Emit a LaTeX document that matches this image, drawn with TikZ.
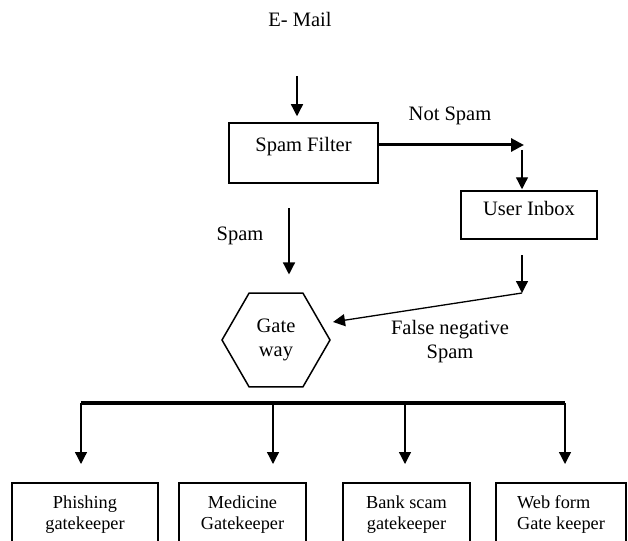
\documentclass[tikz,border=0pt]{standalone}
\usepackage{fontspec}
\setmainfont{Liberation Serif}
\usetikzlibrary{arrows.meta,shapes.geometric}
\begin{document}
\begin{tikzpicture}[x=1pt,y=-1pt,
  every node/.style={font=\fontsize{20.5}{24}\selectfont},
  lbl/.style={inner sep=0pt, anchor=base},
  boxn/.style={draw, line width=1.5pt, inner sep=0pt},
  arr/.style={line width=1.3pt, -{Triangle[width=12pt,length=12pt]}},
  thickarr/.style={line width=3pt, -{Triangle[width=13pt,length=13pt]}},
  gk/.style={draw, line width=1.5pt, anchor=north, minimum height=63pt, inner sep=0pt, align=center, font=\fontsize{18.3}{21}\selectfont}
]
\useasboundingbox (0,0) rectangle (628,540);
\clip (0,0) rectangle (628,540);

% E-Mail input
\node[lbl] (email) at (300,27) {E- Mail};
\coordinate (ein) at (297,76);

% Spam filter
\node[boxn, minimum width=149pt, minimum height=60pt] (sf) at (303.5,153) {};
\node[lbl] (sft) at (303.5,152) {Spam Filter};
\draw[arr, shorten >=6pt] (ein) -- (ein |- sf.north);

% Not spam
\coordinate (ns) at (524,145);
\draw[thickarr] (sf.east |- ns) -- (ns);
\node[lbl] (nst) at (450,121) {Not Spam};

% User inbox
\coordinate (ns2) at (522,150);
\node[boxn, minimum width=136pt, minimum height=48pt] (ui) at (529,215) {};
\node[lbl] (uit) at (529,215) {User Inbox};
\draw[arr, shorten >=1pt] (ns2) -- (ns2 |- ui.north);

% Spam to gateway
\node[lbl] (spt) at (240,240) {Spam};
\coordinate (sp) at (289,208);
\node[draw, regular polygon, regular polygon sides=6, minimum size=108pt, inner sep=0pt,
      line width=1.5pt, align=center] (gw) at (276,340) {Gate\\way};
\draw[arr, shorten >=18pt] (sp) -- (sp |- gw.north);

% False negative
\coordinate (uo) at (522,255);
\coordinate (fn) at (522,293);
\draw[arr] (uo) -- (fn);
\coordinate (fne) at (333,322);
\draw[arr] (fn) -- (fne);
\node[align=center, inner sep=0pt] (fnt) at (450,342) {False negative\\Spam};

% Bus
\coordinate (bl) at (81,403);
\coordinate (br) at (565,403);
\coordinate (d2) at (273,403);
\coordinate (d3) at (405,403);
\draw[line width=3.5pt] (bl) -- (br);

% Gatekeepers
\node[gk, minimum width=146pt] (b1) at (85,482) {Phishing\\gatekeeper};
\node[gk, minimum width=127pt] (b2) at (242.5,482) {Medicine\\Gatekeeper};
\node[gk, minimum width=127pt] (b3) at (406.5,482) {Bank scam\\gatekeeper};
\node[gk, minimum width=130pt, align=left] (b4) at (561,482) {Web form\\Gate keeper};

\draw[arr, shorten >=18pt] (bl) -- (bl |- b1.north);
\draw[arr, shorten >=18pt] (d2) -- (d2 |- b2.north);
\draw[arr, shorten >=18pt] (d3) -- (d3 |- b3.north);
\draw[arr, shorten >=18pt] (br) -- (br |- b4.north);
\end{tikzpicture}
\end{document}
